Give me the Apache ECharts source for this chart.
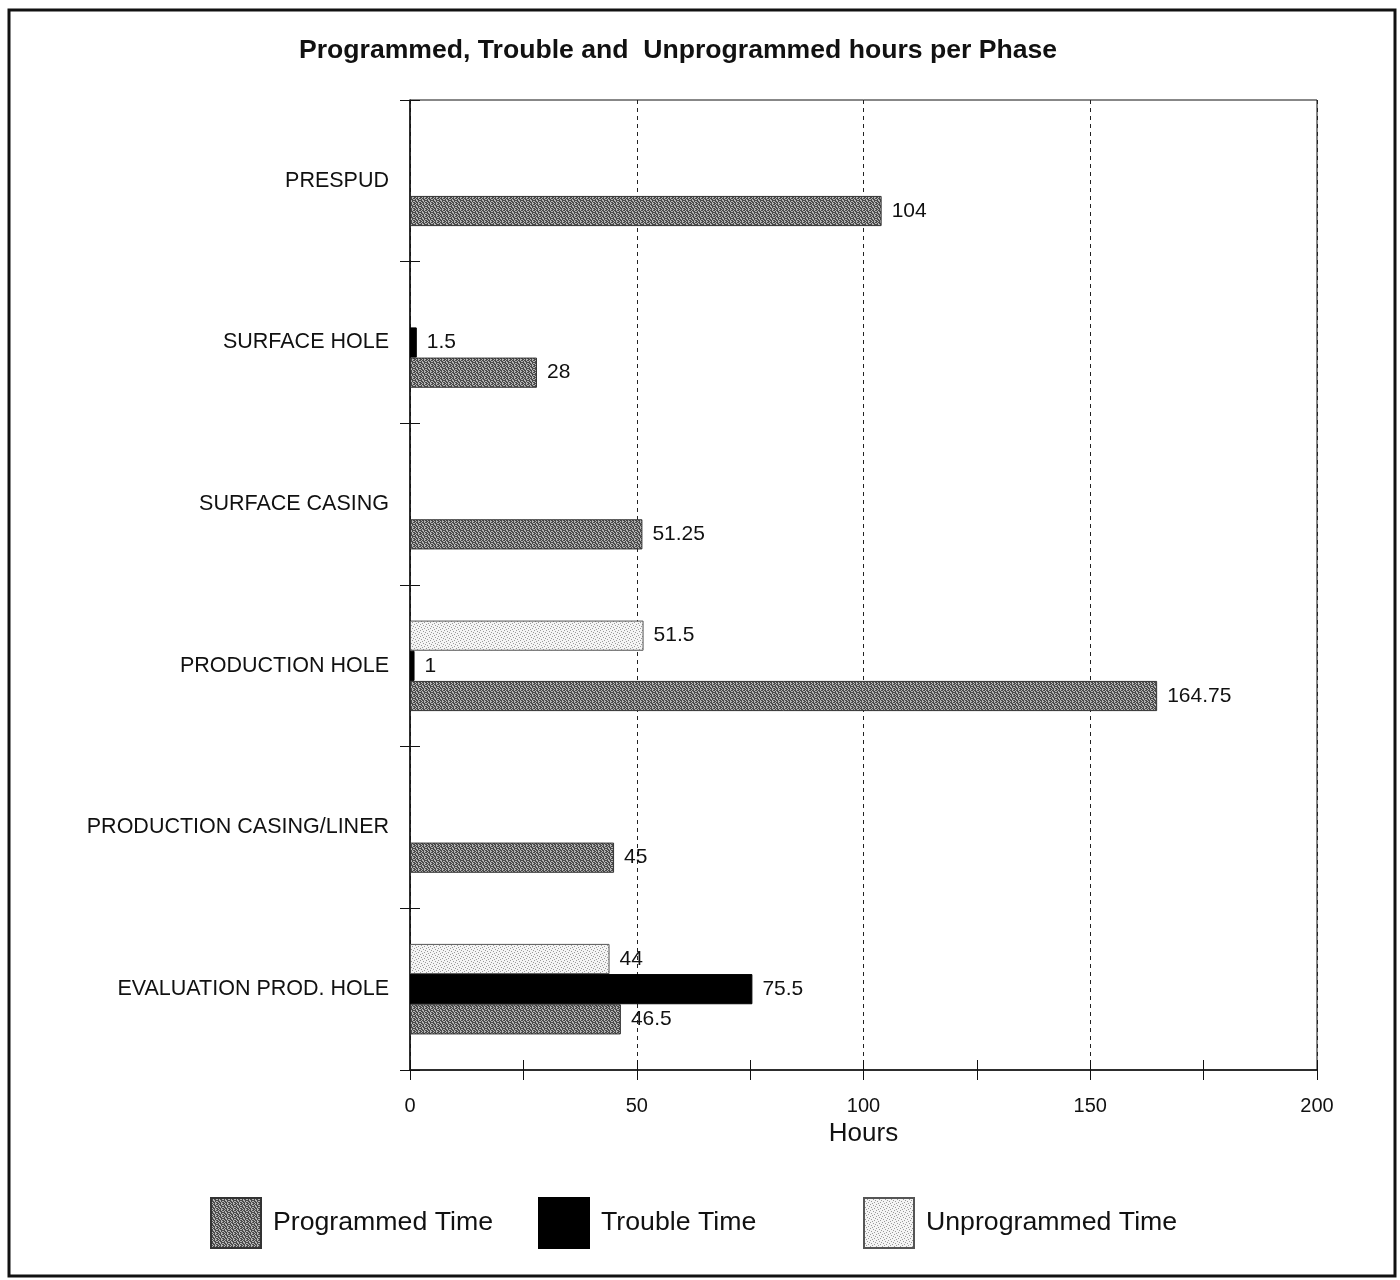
<!DOCTYPE html>
<html>
<head>
<meta charset="utf-8">
<title>Programmed, Trouble and Unprogrammed hours per Phase</title>
<script src="https://cdn.jsdelivr.net/npm/echarts@6/dist/echarts.min.js"></script>
<style>
  html, body { margin: 0; padding: 0; background: #fff; }
  #chart { width: 1400px; height: 1280px; }
</style>
</head>
<body>
<div id="chart"></div>
<script>
// Drilling phases, top to bottom
const phases = [
  'PRESPUD',
  'SURFACE HOLE',
  'SURFACE CASING',
  'PRODUCTION HOLE',
  'PRODUCTION CASING/LINER',
  'EVALUATION PROD. HOLE'
];

// Hours per phase for each kind of time (null = none recorded)
const programmedHours   = [104, 28, 51.25, 164.75, 45, 46.5];
const troubleHours      = [null, 1.5, null, 1, null, 75.5];
const unprogrammedHours = [null, null, null, 51.5, null, 44];

const seriesNames = ['Programmed Time', 'Trouble Time', 'Unprogrammed Time'];

// Hours axis
const hoursMin = 0;
const hoursMax = 200;
const hoursStep = 50;

// Small ordered-dither tiles for the halftone-style fills
function ditherTile(dark, light, mask) {
  const n = mask.length;
  const c = document.createElement('canvas');
  c.width = n; c.height = n;
  const ctx = c.getContext('2d');
  for (let y = 0; y < n; y++) {
    for (let x = 0; x < n; x++) {
      ctx.fillStyle = mask[y][x] ? dark : light;
      ctx.fillRect(x, y, 1, 1);
    }
  }
  return { image: c, repeat: 'repeat' };
}

const programmedFill = ditherTile('#4a4a4a', '#b4b4b4', [
  [1, 0, 1, 1, 0, 1],
  [0, 1, 0, 1, 1, 0],
  [1, 1, 0, 0, 1, 1],
  [0, 1, 1, 0, 1, 0],
  [1, 0, 1, 1, 0, 1],
  [1, 1, 0, 1, 0, 0]
]);
const unprogrammedFill = ditherTile('#9a9a9a', '#f4f4f4', [
  [1, 0, 0, 0, 0, 0],
  [0, 0, 0, 1, 0, 0],
  [0, 0, 0, 0, 0, 1],
  [0, 1, 0, 0, 0, 0],
  [0, 0, 0, 0, 1, 0],
  [0, 0, 1, 0, 0, 0]
]);

const styles = {
  'Programmed Time':   { color: programmedFill,   borderColor: '#333', borderWidth: 1 },
  'Trouble Time':      { color: '#000',           borderColor: '#000', borderWidth: 1 },
  'Unprogrammed Time': { color: unprogrammedFill, borderColor: '#555', borderWidth: 1 }
};

const bodyFont = 'Liberation Sans, Arial, sans-serif';

const valueLabel = {
  show: true,
  position: 'right',
  distance: 10,
  fontFamily: bodyFont,
  fontSize: 21,
  color: '#111',
  formatter: p => (p.value == null ? '' : String(p.value))
};

function barSeries(name, values) {
  return {
    name: name,
    type: 'bar',
    xAxisIndex: 0,
    yAxisIndex: 0,
    data: values,
    barGap: '0%',
    barCategoryGap: '44%',
    itemStyle: styles[name],
    label: valueLabel,
    emphasis: { disabled: true }
  };
}

const legendText = {
  fontFamily: bodyFont,
  fontSize: 26.7,
  color: '#111',
  padding: [0, 0, 0, 7]
};

function legendFor(name, left) {
  return {
    data: [{ name: name, icon: 'rect' }],
    left: left,
    top: 1197,
    padding: 0,
    itemWidth: 50,
    itemHeight: 50,
    selectedMode: false,
    textStyle: legendText
  };
}

const chart = echarts.init(document.getElementById('chart'), null, { renderer: 'canvas' });

chart.setOption({
  backgroundColor: '#fff',
  animation: false,
  title: {
    text: 'Programmed, Trouble and  Unprogrammed hours per Phase',
    left: 294,
    top: 32,
    textStyle: {
      fontFamily: bodyFont,
      fontWeight: 'bold',
      fontSize: 26.6,
      color: '#111'
    }
  },
  legend: [
    legendFor(seriesNames[0], 210),
    legendFor(seriesNames[1], 538),
    legendFor(seriesNames[2], 863)
  ],
  grid: {
    left: 410,
    right: 83,
    top: 100,
    bottom: 210,
    show: true,
    borderColor: '#111',
    borderWidth: 1,
    backgroundColor: 'transparent',
    containLabel: false
  },
  xAxis: [
    {
      type: 'value',
      min: hoursMin,
      max: hoursMax,
      interval: hoursStep,
      name: 'Hours',
      nameLocation: 'middle',
      nameGap: 44,
      nameTextStyle: {
        fontFamily: bodyFont,
        fontSize: 26,
        color: '#111'
      },
      axisLine: { show: true, lineStyle: { color: '#111', width: 1.5 } },
      axisTick: { show: true, length: 10, lineStyle: { color: '#111' } },
      minorTick: { show: true, splitNumber: 2, length: 10, lineStyle: { color: '#111' } },
      axisLabel: {
        margin: 26,
        fontFamily: bodyFont,
        fontSize: 20,
        color: '#111'
      },
      splitLine: { show: true, lineStyle: { color: '#222', width: 1, type: [4, 4] } }
    },
    {
      // upper half of the crossing ticks
      type: 'value',
      position: 'bottom',
      min: hoursMin,
      max: hoursMax,
      interval: hoursStep,
      axisLine: { show: false },
      axisTick: { show: true, inside: true, length: 10, lineStyle: { color: '#111' } },
      minorTick: { show: true, splitNumber: 2, length: 10, lineStyle: { color: '#111' } },
      axisLabel: { show: false },
      splitLine: { show: false }
    }
  ],
  yAxis: [
    {
      type: 'category',
      data: phases,
      inverse: true,
      axisLine: { show: true, lineStyle: { color: '#111', width: 1.5 } },
      axisTick: { show: true, length: 10, lineStyle: { color: '#111' } },
      axisLabel: {
        margin: 21,
        fontFamily: bodyFont,
        fontSize: 21.5,
        color: '#111'
      },
      splitLine: { show: false }
    },
    {
      // right half of the crossing ticks
      type: 'category',
      data: phases,
      inverse: true,
      position: 'left',
      axisLine: { show: false },
      axisTick: { show: true, inside: true, length: 10, lineStyle: { color: '#111' } },
      axisLabel: { show: false },
      splitLine: { show: false }
    }
  ],
  // stacked top to bottom within each phase: unprogrammed, trouble, programmed
  series: [
    barSeries(seriesNames[2], unprogrammedHours),
    barSeries(seriesNames[1], troubleHours),
    barSeries(seriesNames[0], programmedHours)
  ],
  graphic: [
    {
      // page frame
      type: 'rect',
      shape: { x: 9, y: 10, width: 1386, height: 1266 },
      style: { fill: 'none', stroke: '#111', lineWidth: 3 },
      silent: true
    }
  ]
});
</script>
</body>
</html>
